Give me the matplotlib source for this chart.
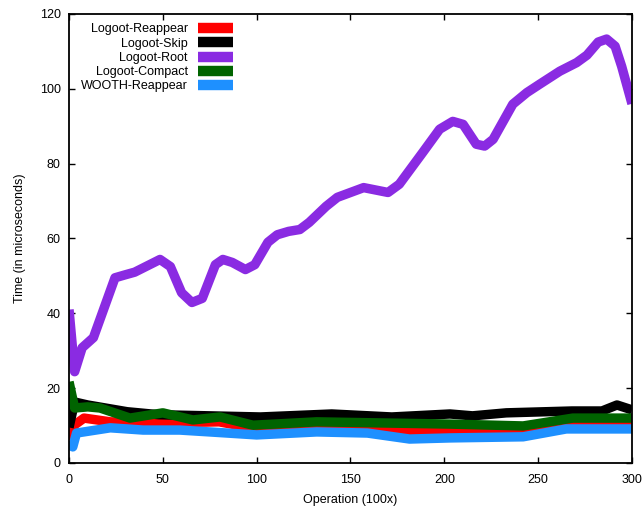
import matplotlib
matplotlib.use("Agg")
import matplotlib.pyplot as plt

plt.rcParams['font.family'] = ['Liberation Sans', 'DejaVu Sans']
plt.rcParams['font.size'] = 9

# series (x = operation / 100, y = microseconds)
reappear_x = [0, 3, 8, 22, 48, 80, 95, 130, 164, 182, 203, 251, 300]
reappear_y = [6.2, 10.2, 12.0, 11.0, 10.7, 11.0, 9.6, 10.0, 9.4, 8.3, 8.6, 9.4, 10.7]

skip_x = [0, 3, 10, 31, 48, 102, 140, 172, 203, 215, 233, 268, 284, 292, 300]
skip_y = [9.5, 16.3, 15.5, 13.7, 12.9, 12.3, 13.1, 12.3, 13.1, 12.6, 13.4, 13.9, 13.9, 15.5, 14.2]

root_x = [0, 3, 7, 13, 24.5, 30, 35, 48.5, 54, 60, 65.5, 71, 78, 82, 87, 94, 99,
          106, 111, 117, 123, 128, 137, 143, 157, 170, 176, 188.5, 197.5, 204.5,
          210, 217, 221.5, 226, 236.5, 244, 251, 261.5, 270.5, 276, 282, 286.5,
          291, 294.5, 300]
root_y = [41, 24.4, 30.8, 33.5, 49.5, 50.3, 51, 54.4, 52.5, 45.5, 42.9, 44, 53,
          54.4, 53.6, 51.7, 53, 59, 61, 61.9, 62.4, 64.3, 68.6, 71, 73.6, 72.3,
          74.5, 83, 89.2, 91.3, 90.5, 85.2, 84.7, 86.5, 95.9, 99, 101.3, 104.7,
          107, 109, 112.5, 113.3, 111.4, 106, 96]

compact_x = [0, 3, 10, 16.5, 32.5, 50, 66, 80.5, 98, 132, 167, 203, 242, 268.5, 300]
compact_y = [21.7, 14.7, 15.0, 14.7, 12.0, 13.4, 11.5, 12.3, 10.1, 11.0, 10.7, 10.4, 9.9, 12.0, 12.0]

wooth_x = [0, 2, 4, 22, 39.5, 59, 75, 100, 132, 159, 181.5, 203, 242, 265, 300]
wooth_y = [5.6, 4.3, 8.0, 9.4, 8.8, 8.8, 8.3, 7.5, 8.3, 8.0, 6.4, 6.7, 7.0, 9.1, 9.1]

names = ['Logoot-Reappear', 'Logoot-Skip', 'Logoot-Root', 'Logoot-Compact', 'WOOTH-Reappear']
colors = ['#ff0000', '#000000', '#8a2be2', '#006400', '#1e90ff']

fig = plt.figure(figsize=(6.42, 5.07), dpi=100)
ax = fig.add_axes([0.1075, 0.0868, 0.8769, 0.8856])

series = [(reappear_x, reappear_y), (skip_x, skip_y), (root_x, root_y),
          (compact_x, compact_y), (wooth_x, wooth_y)]
for (xs, ys), name, c in zip(series, names, colors):
    ax.plot(xs, ys, color=c, lw=6.8, label=name,
            solid_capstyle='butt', solid_joinstyle='round')

ax.set_xlim(0, 300)
ax.set_ylim(0, 120)
ax.set_xticks(range(0, 301, 50))
ax.set_yticks(range(0, 121, 20))
ax.tick_params(axis='x', direction='in', length=4, width=1, top=True, pad=8)
ax.tick_params(axis='y', direction='in', length=4, width=1, right=True, pad=6)
for s in ax.spines.values():
    s.set_linewidth(1.3)

ax.set_xlabel('Operation (100x)', labelpad=6)
ax.set_ylabel('Time (in microseconds)', labelpad=10)

leg = ax.legend(loc='upper right', bbox_to_anchor=(0.291, 0.979), frameon=False,
                markerfirst=False, borderpad=0, borderaxespad=0, labelspacing=0.18,
                handlelength=2.8, handletextpad=0.8)
for h in leg.get_lines():
    h.set_linewidth(7.5)

fig.savefig('out.png', dpi=100)
